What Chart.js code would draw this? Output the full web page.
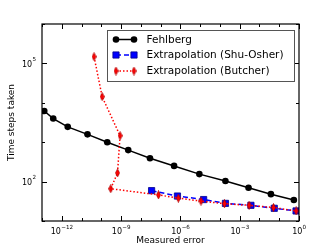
<!DOCTYPE html>
<html>
<head>
<meta charset="utf-8">
<script src="https://cdn.jsdelivr.net/npm/chart.js@4"></script>
<style>
  html, body { margin: 0; padding: 0; background: #fff; }
</style>
</head>
<body>
<canvas id="errChart" width="332" height="246"></canvas>
<script>
// data (log-log)
const fehlbergErr = [1.3e-13, 3.7e-13, 2.0e-12, 2.0e-11, 2.0e-10, 2.3e-9, 2.9e-8, 4.8e-7, 9.1e-6, 1.9e-4, 2.8e-3, 3.8e-2, 0.55];
const fehlbergSteps = [6200, 3980, 2450, 1580, 1000, 630, 390, 250, 155, 104, 70, 48, 34];

const shuOsherErr = [3.5e-8, 7.1e-7, 1.5e-5, 1.9e-4, 3.7e-3, 5.6e-2, 0.71];
const shuOsherSteps = [59, 43, 35, 28, 25, 21, 18];

const butcherErr = [4.3e-11, 1.1e-10, 8.9e-10, 6.6e-10, 3.0e-10, 7.8e-8, 7.9e-7, 1.1e-5, 1.7e-4, 3.0e-3, 5.1e-2, 0.72];
const butcherSteps = [148000, 14300, 1460, 166, 66, 46, 38, 32, 27.5, 25, 22, 18];

const seriesNames = ['Fehlberg', 'Extrapolation (Shu-Osher)', 'Extrapolation (Butcher)'];

// tick exponents
const xMinorExps = [-13, -12, -11, -10, -9, -8, -7, -6, -5, -4, -3, -2, -1, 0];
const xLabelExps = [-12, -9, -6, -3, 0];
const yMinorExps = [1, 2, 3, 4, 5, 6];
const yLabelExps = [2, 5];

const FONT = "'DejaVu Sans', sans-serif";

function thinDiamond(w, h, color) {
  const c = document.createElement('canvas');
  c.width = w;
  c.height = h;
  const g = c.getContext('2d');
  g.beginPath();
  g.moveTo(w / 2, 0.5);
  g.lineTo(w - 0.5, h / 2);
  g.lineTo(w / 2, h - 0.5);
  g.lineTo(0.5, h / 2);
  g.closePath();
  g.fillStyle = color;
  g.fill();
  g.strokeStyle = '#b00000';
  g.lineWidth = 0.8;
  g.stroke();
  return c;
}

const diamond = thinDiamond(5, 9, '#ff0000');

function toPoints(xs, ys) {
  return xs.map((x, i) => ({x: x, y: ys[i]}));
}

function sup(n) {
  return n < 0 ? '\u2212' + Math.abs(n) : String(n);
}

const datasets = [
  {
    label: seriesNames[0],
    data: toPoints(fehlbergErr, fehlbergSteps),
    borderColor: '#000000',
    backgroundColor: '#000000',
    borderWidth: 1.5,
    pointStyle: 'circle',
    pointRadius: 3.3,
    pointBorderWidth: 0,
    order: 2
  },
  {
    label: seriesNames[1],
    data: toPoints(shuOsherErr, shuOsherSteps),
    borderColor: '#0000ff',
    backgroundColor: '#0000ff',
    borderWidth: 1.5,
    borderDash: [5, 3],
    pointStyle: 'rect',
    pointRadius: 4.4,
    pointBorderWidth: 0.8,
    pointBorderColor: '#00008b',
    order: 1
  },
  {
    label: seriesNames[2],
    data: toPoints(butcherErr, butcherSteps),
    borderColor: '#ff0000',
    backgroundColor: '#ff0000',
    borderWidth: 1.5,
    borderDash: [1.5, 2],
    pointStyle: diamond,
    pointRadius: 4,
    order: 0
  }
];

// frame, inward ticks, mathtext-like tick labels and the boxed legend
const decorations = {
  id: 'decorations',
  afterDraw(chart) {
    const ctx = chart.ctx;
    const a = chart.chartArea;
    const xs = chart.scales.x;
    const ys = chart.scales.y;
    ctx.save();
    ctx.strokeStyle = '#000';
    ctx.lineWidth = 1;

    ctx.beginPath();
    xMinorExps.forEach(e => {
      const px = Math.round(xs.getPixelForValue(Math.pow(10, e))) + 0.5;
      const len = xLabelExps.includes(e) ? 5 : 3;
      ctx.moveTo(px, a.bottom); ctx.lineTo(px, a.bottom - len);
      ctx.moveTo(px, a.top); ctx.lineTo(px, a.top + len);
    });
    yMinorExps.forEach(e => {
      const py = Math.round(ys.getPixelForValue(Math.pow(10, e))) + 0.5;
      const len = yLabelExps.includes(e) ? 5 : 3;
      ctx.moveTo(a.left, py); ctx.lineTo(a.left + len, py);
      ctx.moveTo(a.right, py); ctx.lineTo(a.right - len, py);
    });
    ctx.stroke();

    ctx.lineWidth = 1.2;
    ctx.strokeRect(a.left, a.top, a.right - a.left, a.bottom - a.top);

    ctx.fillStyle = '#000';
    ctx.textBaseline = 'alphabetic';
    const baseFont = '8px ' + FONT;
    const expFont = '5.6px ' + FONT;
    xLabelExps.forEach(e => {
      const px = xs.getPixelForValue(Math.pow(10, e));
      ctx.font = baseFont;
      const w1 = ctx.measureText('10').width;
      ctx.font = expFont;
      const w2 = ctx.measureText(sup(e)).width;
      const x0 = px - (w1 + w2) / 2;
      ctx.font = baseFont;
      ctx.textAlign = 'left';
      ctx.fillText('10', x0, a.bottom + 12.5);
      ctx.font = expFont;
      ctx.fillText(sup(e), x0 + w1 + 0.3, a.bottom + 7.5);
    });
    yLabelExps.forEach(e => {
      const py = ys.getPixelForValue(Math.pow(10, e));
      ctx.font = expFont;
      const w2 = ctx.measureText(sup(e)).width;
      const xr = a.left - 6;
      ctx.textAlign = 'right';
      ctx.fillText(sup(e), xr, py - 2.5);
      ctx.font = baseFont;
      ctx.fillText('10', xr - w2 - 0.3, py + 3.5);
    });

    // legend
    const lx = 107.5, ly = 30.5, lw = 187, lh = 51;
    ctx.fillStyle = '#fff';
    ctx.fillRect(lx, ly, lw, lh);
    ctx.strokeStyle = '#555';
    ctx.lineWidth = 1;
    ctx.strokeRect(lx, ly, lw, lh);
    const rows = [39.5, 55, 71];
    chart.data.datasets.forEach((ds, i) => {
      const y = rows[i];
      ctx.save();
      ctx.strokeStyle = ds.borderColor;
      ctx.lineWidth = ds.borderWidth;
      ctx.setLineDash(ds.borderDash || []);
      ctx.beginPath();
      ctx.moveTo(116, y);
      ctx.lineTo(134, y);
      ctx.stroke();
      ctx.restore();
      [116, 134].forEach(mx => {
        ctx.save();
        ctx.fillStyle = ds.backgroundColor;
        ctx.strokeStyle = ds.pointBorderColor || ds.borderColor;
        ctx.lineWidth = ds.pointBorderWidth || 0;
        ctx.setLineDash([]);
        Chart.helpers.drawPoint(ctx, {
          pointStyle: ds.pointStyle,
          radius: ds.pointRadius,
          rotation: 0,
          borderWidth: ds.pointBorderWidth || 0
        }, mx, y);
        ctx.restore();
      });
      ctx.fillStyle = '#000';
      ctx.font = '10.5px ' + FONT;
      ctx.textAlign = 'left';
      ctx.textBaseline = 'middle';
      ctx.fillText(ds.label, 146.5, y + 0.5);
    });
    ctx.restore();
  }
};

new Chart(document.getElementById('errChart'), {
  type: 'scatter',
  data: {datasets: datasets},
  options: {
    responsive: false,
    animation: false,
    showLine: true,
    layout: {padding: {top: 24, right: 33, left: 0, bottom: 0}},
    plugins: {
      legend: {display: false},
      tooltip: {enabled: false}
    },
    scales: {
      x: {
        type: 'logarithmic',
        min: 1e-13,
        max: 1,
        grid: {display: false},
        border: {display: false},
        ticks: {display: false},
        title: {
          display: true,
          text: 'Measured error',
          color: '#000',
          font: {family: FONT, size: 9},
          padding: {top: 0, bottom: 0}
        },
        afterFit(scale) { scale.height = 25; }
      },
      y: {
        type: 'logarithmic',
        min: 10,
        max: 1e6,
        grid: {display: false},
        border: {display: false},
        ticks: {display: false},
        title: {
          display: true,
          text: 'Time steps taken',
          color: '#000',
          font: {family: FONT, size: 9},
          padding: {top: 6, bottom: 0}
        },
        afterFit(scale) { scale.width = 42; }
      }
    }
  },
  plugins: [decorations]
});
</script>
</body>
</html>
